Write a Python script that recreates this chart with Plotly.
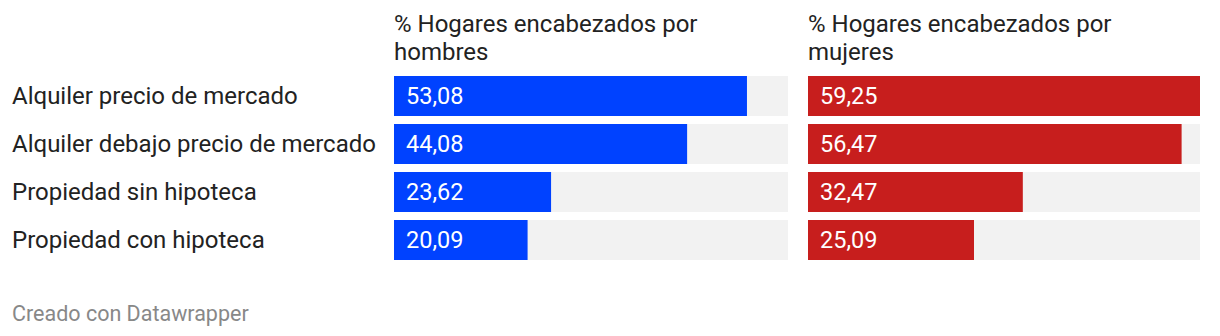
import plotly.graph_objects as go

categories = ["Alquiler precio de mercado", "Alquiler debajo precio de mercado",
              "Propiedad sin hipoteca", "Propiedad con hipoteca"]
hombres = [53.08, 44.08, 23.62, 20.09]
mujeres = [59.25, 56.47, 32.47, 25.09]
header_hombres = ["% Hogares encabezados por", "hombres"]
header_mujeres = ["% Hogares encabezados por", "mujeres"]
footer = "Creado con Datawrapper"

W, H = 1220, 336
FONT = "Roboto"
BLUE = "#0042ff"
RED = "#c71e1d"
GREY = "#f2f2f2"
TEXT = "#222222"

xmax = max(max(hombres), max(mujeres))
bg = [xmax] * len(categories)

fig = go.Figure()
panels = [(hombres, BLUE, "x", "y", header_hombres), (mujeres, RED, "x2", "y2", header_mujeres)]
for vals, col, xa, ya, _ in panels:
    fig.add_trace(go.Bar(x=bg, y=categories, orientation="h", marker=dict(color=GREY, line_width=0),
                         xaxis=xa, yaxis=ya, hoverinfo="skip", showlegend=False))
    fig.add_trace(go.Bar(x=vals, y=categories, orientation="h", marker=dict(color=col, line_width=0),
                         xaxis=xa, yaxis=ya, showlegend=False))

ydom = [(H - 264) / H, (H - 72) / H]
axis_common = dict(showgrid=False, zeroline=False, showticklabels=False, showline=False, ticks="")
fig.update_layout(
    width=W, height=H, margin=dict(l=0, r=0, t=0, b=0),
    paper_bgcolor="white", plot_bgcolor="white",
    barmode="overlay", bargap=8 / 48,
    font=dict(family=FONT, color=TEXT),
    xaxis=dict(domain=[394 / W, 788 / W], range=[0, xmax], **axis_common),
    xaxis2=dict(domain=[808 / W, 1200 / W], range=[0, xmax], **axis_common),
    yaxis=dict(domain=ydom, categoryorder="array", categoryarray=categories,
               autorange="reversed", **axis_common),
    yaxis2=dict(domain=ydom, categoryorder="array", categoryarray=categories,
                autorange="reversed", anchor="x2", **axis_common),
)

ann = []
for vals, col, xa, ya, hdr in panels:
    for c, v in zip(categories, vals):
        ann.append(dict(x=0, y=c, xref=xa, yref=ya, text=f"{v:.2f}".replace(".", ","),
                        showarrow=False, xanchor="left", yanchor="middle", xshift=10,
                        font=dict(family=FONT, size=23.5, color="white")))
    for i, line in enumerate(hdr):
        ann.append(dict(x=0, y=1 - (24 + 28 * i) / H, xref=f"{xa} domain", yref="paper", text=line,
                        showarrow=False, xanchor="left", yanchor="middle", xshift=-2,
                        font=dict(family=FONT, size=24, color=TEXT)))
for c in categories:
    ann.append(dict(x=12 / W, y=c, xref="paper", yref="y", text=c, showarrow=False,
                    xanchor="left", yanchor="middle", xshift=-2,
                    font=dict(family=FONT, size=24, color=TEXT)))
ann.append(dict(x=12 / W, y=1 - 313 / H, xref="paper", yref="paper", text=footer, showarrow=False,
                xanchor="left", yanchor="middle", xshift=-2,
                font=dict(family=FONT, size=21.5, color="#888888")))
fig.update_layout(annotations=ann)

fig.write_html("out.html")
